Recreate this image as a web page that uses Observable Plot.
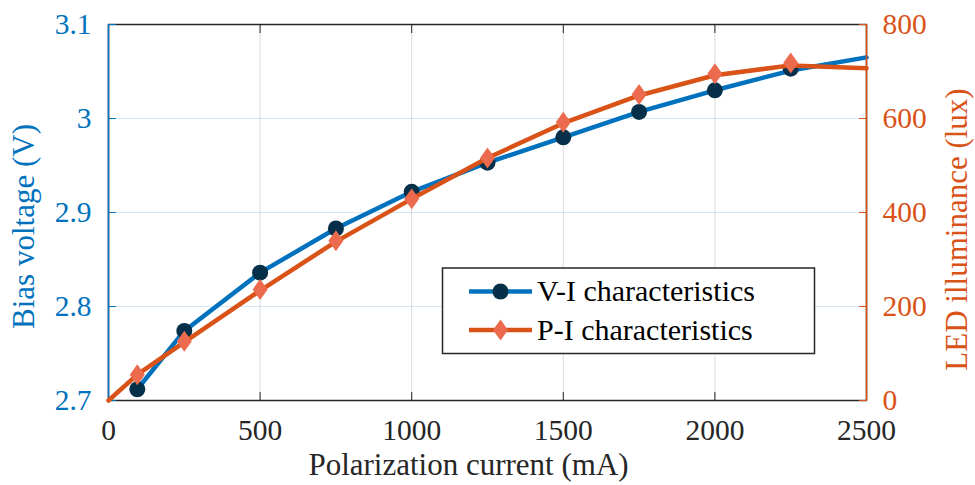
<!DOCTYPE html>
<html><head><meta charset="utf-8">
<script src="https://cdn.jsdelivr.net/npm/d3@7"></script>
<script src="https://cdn.jsdelivr.net/npm/@observablehq/plot@0.6"></script>
<style>
body{margin:0;background:#fff;}
#chart{position:relative;width:975px;height:485px;}
#chart svg{position:absolute;left:0;top:0;}
</style></head><body><div id="chart"></div>
<script>
// measured markers
const current = [95, 250, 500, 750, 1000, 1250, 1500, 1750, 2000, 2250];
const voltage = [2.712, 2.774, 2.836, 2.883, 2.922, 2.953, 2.980, 3.007, 3.030, 3.053];
const illuminance = [55, 126, 236, 340, 429, 516, 592, 651, 695, 718];
// drawn curves
const vLineCurrent = [95, 250, 500, 750, 1000, 1250, 1500, 1750, 2000, 2250, 2500];
const vLineVoltage = [2.712, 2.774, 2.836, 2.883, 2.922, 2.953, 2.980, 3.007, 3.030, 3.051, 3.065];
const pLineCurrent = [0, 95, 250, 500, 750, 1000, 1250, 1500, 1750, 2000, 2250, 2500];
const pLineIllum = [0, 55, 124, 234, 338, 429, 516, 590, 649, 692, 713, 707];
// ticks and text
const xTicks = [0, 500, 1000, 1500, 2000, 2500];
const leftTicks = [2.7, 2.8, 2.9, 3, 3.1];
const rightTicks = [0, 200, 400, 600, 800];
const seriesNames = ["V-I characteristics", "P-I characteristics"];
const xLabel = "Polarization current (mA)";
const leftLabel = "Bias voltage (V)";
const rightLabel = "LED illuminance (lux)";

const BLUE = "#0072BD", ORANGE = "#D95319", DARK = "#262626";
const CIRCLE_FILL = "#06304A", DIAMOND_FILL = "#EC6B4E";
const FONT = "Liberation Serif";
const TICK_FS = 29.5, LABEL_FS = 31;

const vPoints = current.map((c, i) => ({current: c, value: voltage[i]}));
const pPoints = current.map((c, i) => ({current: c, value: illuminance[i]}));
const vLine = vLineCurrent.map((c, i) => ({current: c, value: vLineVoltage[i]}));
const pLine = pLineCurrent.map((c, i) => ({current: c, value: pLineIllum[i]}));

const tallDiamond = {
  draw(ctx, size) {
    const r = Math.sqrt(size / Math.PI);
    const w = r * 0.94, h = r * 1.31;
    ctx.moveTo(0, -h); ctx.lineTo(w, 0); ctx.lineTo(0, h); ctx.lineTo(-w, 0); ctx.closePath();
  }
};

const common = {
  width: 975, height: 485,
  marginLeft: 108, marginRight: 109, marginTop: 24, marginBottom: 85,
  style: {background: "transparent", overflow: "visible"}
};
const xDomain = [xTicks[0], xTicks[xTicks.length - 1]];

const p1 = Plot.plot({
  ...common,
  x: {domain: xDomain},
  y: {domain: [leftTicks[0], leftTicks[leftTicks.length - 1]]},
  marks: [
    Plot.gridX(xTicks, {stroke: "#000", strokeOpacity: 0.14, strokeWidth: 1}),
    Plot.gridY(leftTicks, {stroke: BLUE, strokeOpacity: 0.16, strokeWidth: 1}),
    Plot.frame({stroke: DARK, strokeWidth: 1.5}),
    Plot.axisX(xTicks, {anchor: "bottom", tickSize: -8, tickPadding: 27, color: DARK, label: null, fontSize: TICK_FS, tickFormat: d => String(d)}),
    Plot.axisX(xTicks, {anchor: "top", tickSize: -8, color: DARK, label: null, tickFormat: () => ""}),
    Plot.axisY(leftTicks, {anchor: "left", tickSize: -8, tickPadding: 25, color: BLUE, label: null, fontSize: TICK_FS, tickFormat: d => String(d)}),
    Plot.ruleX([xDomain[0]], {stroke: BLUE, strokeWidth: 1.5}),
    Plot.line(vLine, {x: "current", y: "value", stroke: BLUE, strokeWidth: 4.5}),
    Plot.dot(vPoints, {x: "current", y: "value", r: 8, fill: CIRCLE_FILL, stroke: null}),
    Plot.text([xLabel], {text: d => d, frameAnchor: "bottom", textAnchor: "middle", lineAnchor: "middle", dx: -19, dy: 65, fontSize: LABEL_FS, fill: DARK}),
    Plot.text([leftLabel], {text: d => d, frameAnchor: "left", textAnchor: "middle", lineAnchor: "middle", rotate: -90, dx: -84, dy: 14, fontSize: LABEL_FS, fill: BLUE})
  ]
});

const p2 = Plot.plot({
  ...common,
  x: {domain: xDomain, axis: null},
  y: {domain: [rightTicks[0], rightTicks[rightTicks.length - 1]]},
  marks: [
    Plot.axisY(rightTicks, {anchor: "right", tickSize: -8, tickPadding: 24, color: ORANGE, label: null, fontSize: TICK_FS, tickFormat: d => String(d)}),
    Plot.ruleX([xDomain[1]], {stroke: ORANGE, strokeWidth: 1.5}),
    Plot.line(pLine, {x: "current", y: "value", stroke: ORANGE, strokeWidth: 4.5}),
    Plot.dot(pPoints, {x: "current", y: "value", r: 8, symbol: tallDiamond, fill: DIAMOND_FILL, stroke: null}),
    Plot.text([rightLabel], {text: d => d, frameAnchor: "right", textAnchor: "middle", lineAnchor: "middle", rotate: -90, dx: 91, dy: 17, fontSize: LABEL_FS, fill: ORANGE})
  ]
});

for (const p of [p1, p2]) {
  p.setAttribute("font-family", FONT);
  p.style.fontFamily = FONT;
}

const chart = document.getElementById("chart");
chart.appendChild(p1);
chart.appendChild(p2);

// legend
const leg = d3.create("svg").attr("width", 975).attr("height", 485)
  .attr("font-family", FONT).attr("font-size", 30).style("overflow", "visible");
leg.append("rect").attr("x", 442.5).attr("y", 268).attr("width", 372).attr("height", 85.5)
  .attr("fill", "#fff").attr("stroke", DARK).attr("stroke-width", 1.5);
const rows = [
  {name: seriesNames[0], color: BLUE, fill: CIRCLE_FILL, symbol: d3.symbolCircle, y: 291.5},
  {name: seriesNames[1], color: ORANGE, fill: DIAMOND_FILL, symbol: tallDiamond, y: 330}
];
for (const r of rows) {
  leg.append("line").attr("x1", 469).attr("x2", 532).attr("y1", r.y).attr("y2", r.y)
    .attr("stroke", r.color).attr("stroke-width", 4.5);
  leg.append("path").attr("transform", `translate(500.5,${r.y})`)
    .attr("d", d3.symbol(r.symbol, Math.PI * 64)()).attr("fill", r.fill);
  leg.append("text").attr("x", 537).attr("y", r.y).attr("dy", "0.33em").attr("fill", "#000").text(r.name);
}
chart.appendChild(leg.node());
</script></body></html>
